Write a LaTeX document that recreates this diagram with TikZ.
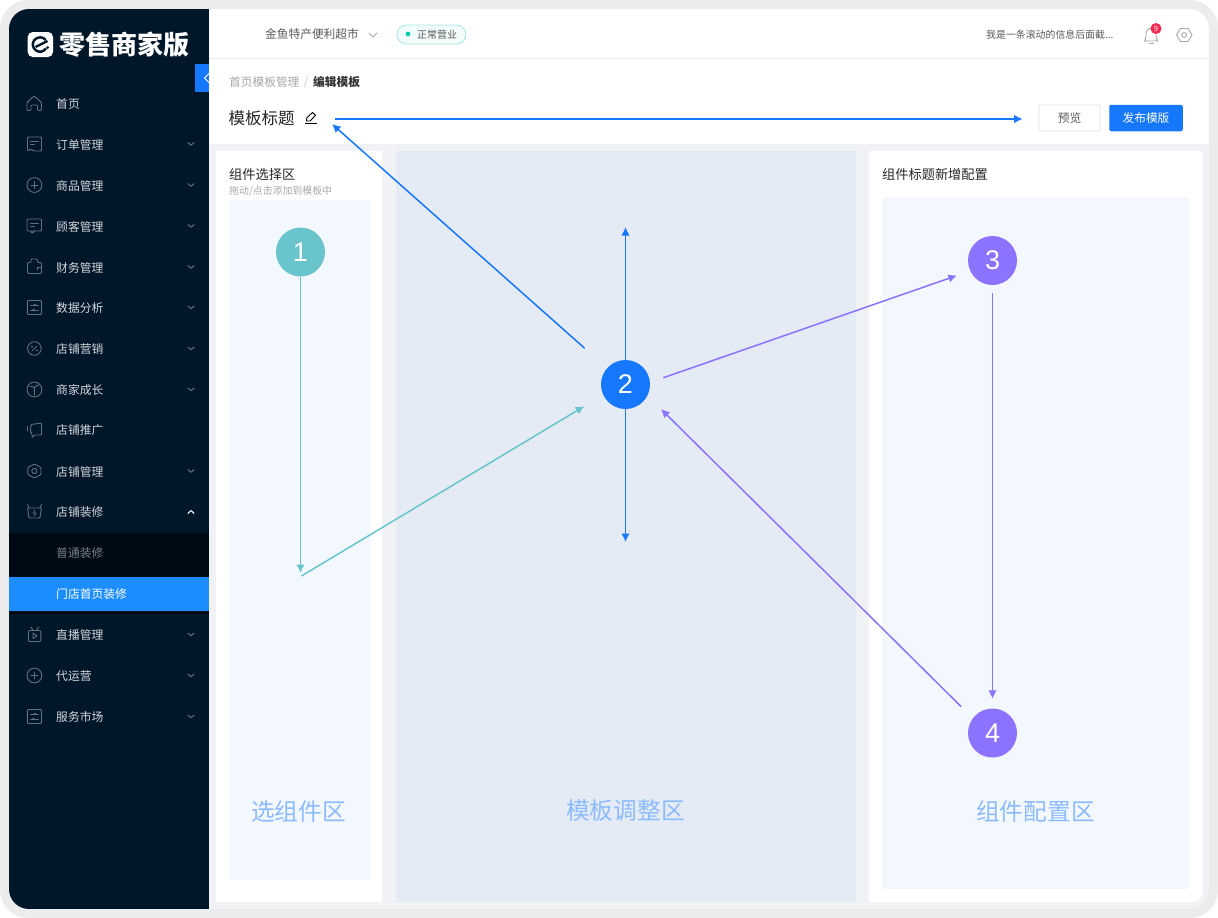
\documentclass[tikz,border=0pt]{standalone}
\usepackage{fontspec}
\setmainfont{Noto Sans CJK SC}
\newfontfamily\digitfont{Liberation Sans}
\usetikzlibrary{shapes,arrows.meta,positioning}
\definecolor{bezel}{HTML}{ECECEC}
\definecolor{sidebar}{HTML}{001629}
\definecolor{sidedark}{HTML}{000A14}
\definecolor{sideblue}{HTML}{1B8DFF}
\definecolor{sideicon}{HTML}{5F7282}
\definecolor{sidetext}{HTML}{D3D7DB}
\definecolor{pagebg}{HTML}{F0F2F6}
\definecolor{zonebg}{HTML}{F3F8FF}
\definecolor{midbg}{HTML}{E4EBF5}
\definecolor{flowblue}{HTML}{1677FF}
\definecolor{flowteal}{HTML}{69C4CC}
\definecolor{flowviolet}{HTML}{8B72FF}
\definecolor{zonetext}{HTML}{8DBBFF}
\definecolor{greytext}{HTML}{5A5A5A}
\definecolor{lighttext}{HTML}{A8A8A8}
\definecolor{statusline}{HTML}{A4E9DE}
\definecolor{statusfill}{HTML}{F2FCFA}
\definecolor{statusdot}{HTML}{00C9A7}
\definecolor{badgered}{HTML}{F5284F}
\newcommand{\px}[1]{\fontsize{#1}{#1}\selectfont}

\begin{document}
\begin{tikzpicture}[x=1pt, y=-1pt,
    menu_item/.style={anchor=west, inner sep=0pt, text=sidetext, font=\px{11.8}},
    menu_icon/.style={draw=sideicon, line width=0.9pt, line join=round, line cap=round},
    menu_fold/.style={draw=sideicon, line width=1pt},
    top_text/.style={anchor=west, inner sep=0pt, text=greytext, font=\px{11.7}},
    panel_title/.style={anchor=west, inner sep=0pt, text=black!85, font=\px{13.2}},
    zone_text/.style={inner sep=0pt, text=zonetext, font=\px{23.7}},
    step_mark/.style={circle, inner sep=0pt, minimum size=49pt, text=white, font=\digitfont\px{27}},
    line/.style={draw, line width=1.5pt, -{Latex[length=8.5pt, width=8.5pt]}},
    line_blue/.style={line, draw=flowblue},
    line_teal/.style={line, draw=flowteal},
    line_violet/.style={line, draw=flowviolet}]

    \useasboundingbox (0,0) rectangle (1218,918);
    \fill [bezel, rounded corners=28pt] (0,0) rectangle (1218,918);

  \begin{scope}
    \clip [rounded corners=20pt] (9,9) rectangle (1209,909);
    % page areas
    \fill [pagebg] (9,9) rectangle (1209,909);
    \fill [white] (209,9) rectangle (1209,144);
    \draw [bezel, line width=1pt] (209,58.5) -- (1209,58.5);
    \fill [white] (215.5,151) rectangle (382.3,902);
    \fill [zonebg] (229.5,200) rectangle (369.7,879.5);
    \fill [midbg] (396,151) rectangle (856,902);
    \fill [white] (869,151) -- (1202.5,151) [rounded corners=9pt] -- (1202.5,902) [sharp corners] -- (869,902) -- cycle;
    \fill [zonebg] (882,197) rectangle (1188.7,889);
    % sidebar
    \fill [sidebar] (9,9) rectangle (209,909);
    \fill [sidedark] (9,533) rectangle (209,577);
    \fill [sidedark] (9,611) rectangle (209,614);
    \fill [sideblue] (9,577) rectangle (209,611);
  \end{scope}

    % logo and folding tab
    \fill [white, rounded corners=5pt] (27.7,32) rectangle (53,57);
    \draw [sidebar, line width=2.5pt] (46,48.5) arc (34:322:7.2);
    \draw [sidebar, line width=2.3pt] (35.5,47) -- (47.5,41);
    \fill [sidebar] (47.5,47.5) circle (1.5);
    \node [anchor=west, inner sep=0pt, text=white, font=\bfseries\px{26}] (logo) at (59.5,44.5) {零售商家版};
    \fill [flowblue] (195,64) rectangle (209,92);
    \draw [white, line width=1pt] (209,73.5) -- (204.5,78) -- (209,82.5);

    % sidebar items
    \foreach \yy/\name/\lab in {104/home/首页, 144.5/order/订单管理, 185.5/goods/商品管理, 226.5/client/顾客管理,
        267.5/finance/财务管理, 308/data/数据分析, 349/sale/店铺营销, 390/grow/商家成长, 430.5/promo/店铺推广,
        471.5/manage/店铺管理, 512.5/decor/店铺装修, 635/live/直播管理, 676/agent/代运营, 717/market/服务市场}
      \node [menu_item] (\name) at (56,\yy) {\lab};
    \node [menu_item, text=sidetext!55!sidebar] (decorA) at (56,553.5) {普通装修};
    \node [menu_item, text=white] (decorB) at (56,594.5) {门店首页装修};
    \foreach \yy in {144,185,226,267,307.5,348.5,389.5,471,634.5,675.5,716.5}
      \draw [menu_fold] (187.8,\yy-1.5) -- (191,\yy+1.2) -- (194.2,\yy-1.5);
    \draw [white, line width=1pt] (187.8,513.5) -- (191,510.5) -- (194.2,513.5);

    % sidebar icons
    \draw [menu_icon, rounded corners=1pt] (27,102.5) -- (34,96) -- (41.5,102.5) -- (41.5,110.5) -- (37.5,110.5)
        -- (37.5,105) -- (31,105) -- (31,110.5) -- (27,110.5) -- cycle;
    \draw [menu_icon, rounded corners=1pt] (27.5,151) -- (27.5,137) -- (41.5,137) -- (41.5,151) -- (33,151) -- (31,149) -- cycle;
    \draw [menu_icon] (30.5,141) -- (38.5,141) (30.5,144.5) -- (34.5,144.5);
    \foreach \yy in {185,675.5} {
      \draw [menu_icon] (34.4,\yy) circle (7.4);
      \draw [menu_icon] (31,\yy) -- (37.8,\yy) (34.4,\yy-3.4) -- (34.4,\yy+3.4);
    }
    \draw [menu_icon, rounded corners=1pt] (27,219) rectangle (41.5,231) (31,231) -- (31.5,233.5) -- (35,231);
    \draw [menu_icon] (30.5,223) -- (38.5,223) (30.5,226.5) -- (34.5,226.5);
    \draw [menu_icon, rounded corners=1pt] (27.5,262.5) -- (31,262.5) -- (31,259) -- (37.5,259) -- (37.5,262.5) -- (41.5,262.5)
        -- (41.5,273.5) -- (27.5,273.5) -- cycle;
    \draw [menu_icon] (41.5,267) -- (37,267) -- (37,270);
    \foreach \yy in {307.5,716.5} {
      \draw [menu_icon, rounded corners=1pt] (27.3,\yy-7) rectangle (41.5,\yy+7);
      \draw [menu_icon] (30.5,\yy-2.5) -- (38.5,\yy-2.5) (30.5,\yy+2.5) -- (38.5,\yy+2.5);
      \fill [sideicon] (35,\yy-2.5) circle (1.3) (33.5,\yy+2.5) circle (1.3);
    }
    \draw [menu_icon, dash pattern=on 5pt off 0.6pt] (34.4,348.5) circle (6.8);
    \draw [menu_icon, line width=0.7pt] (31.8,351) -- (37,346) (32,346.6) circle (0.6) (36.8,350.4) circle (0.6);
    \draw [menu_icon] (34.4,389.5) circle (7.4);
    \draw [menu_icon] (34.4,395) -- (34.4,388) (30,386.5) .. controls (32,386) and (33.5,386.5) .. (34.4,388)
        .. controls (35.5,385.5) and (37,385) .. (39,385);
    \draw [menu_icon, rounded corners=1pt] (31,424.5) -- (41.5,423) -- (41.5,435) -- (34,435) -- (32,438) -- (32,433) -- (30.5,433) -- cycle;
    \draw [menu_icon] (27.5,426.5) -- (27.5,431);
    \draw [menu_icon, rounded corners=1pt] (34.4,464) -- (41,467.5) -- (41,474.5) -- (34.4,478) -- (27.8,474.5) -- (27.8,467.5) -- cycle;
    \draw [menu_icon] (34.4,471) circle (2.6);
    \draw [menu_icon, rounded corners=1pt] (27.5,508) -- (41.5,508) -- (40,518) -- (29,518) -- cycle;
    \draw [menu_icon] (29,507.5) -- (27.5,504.5) (40,507.5) -- (41.5,504.5);
    \draw [menu_icon, line width=0.7pt] (35,510) -- (33,513) -- (36,513) -- (34,516);
    \draw [menu_icon, rounded corners=1pt] (28.5,630.5) rectangle (40.8,641.5);
    \draw [menu_icon] (31,627) -- (33,630.3) (38.5,627) -- (36.5,630.3) (33,633) -- (37,635.8) -- (33,638.5) -- cycle;

    % top bar
    \node [top_text] (shopname) at (265,34.5) {金鱼特产便利超市};
    \draw [draw=lighttext, line width=0.8pt] (369,33) -- (373,37) -- (377,33);
    \node [draw=statusline, fill=statusfill, rounded corners=9.5pt, line width=0.8pt, minimum width=69pt, minimum height=19pt,
        inner sep=0pt] (statusbox) at (431.5,34.5) {};
    \fill [statusdot] (408,34) circle (2.4);
    \node [top_text, font=\px{10}] (status) at (417,34.5) {正常营业};
    \node [top_text, font=\px{9.9}] (notice) at (986,34.5) {我是一条滚动的信息后面截...};
    \draw [draw=lighttext, line width=0.9pt, rounded corners=2pt] (1144.5,41) -- (1146,38) -- (1146,31) -- (1151,27.5) -- (1156,31)
        -- (1156,38) -- (1158,41) -- cycle;
    \draw [draw=lighttext, line width=0.9pt] (1148.5,43.5) -- (1154,43.5);
    \node [circle, fill=badgered, inner sep=0pt, minimum size=11pt, text=white, font=\px{7.5}] (badge) at (1156,28.5) {9};
    \draw [draw=lighttext, line width=0.9pt] (1176.5,35) -- (1180.5,28.5) -- (1188,28.5) -- (1192,35) -- (1188,41.5) -- (1180.5,41.5) -- cycle;
    \draw [draw=lighttext, line width=0.9pt] (1184.2,35) circle (2.4);

    % header row
    \node [top_text, text=lighttext] (crumb) at (229,82) {首页模板管理};
    \node [top_text, text=black!20, right=4pt of crumb] (crumbsep) {/};
    \node [top_text, text=black!80, font=\bfseries\px{11.7}] (crumbedit) at (313,82) {编辑模板};
    \node [anchor=west, inner sep=0pt, text=black!85, font=\px{16.5}] (pagetitle) at (228.5,118) {模板标题};
    \node [inner sep=0pt, minimum size=14pt] (pencil) at (311,119) {};
    \draw [black, line width=0.9pt, line join=round] (306.5,121) -- (306.8,117.8) -- (312.5,112.5) -- (315.5,115.3) -- (310,121) -- cycle;
    \draw [black, line width=0.9pt] (305,123.7) -- (317,123.7);
    \node [draw=black!12, rounded corners=2pt, line width=0.8pt, minimum width=61pt, minimum height=26pt, inner sep=0pt,
        text=greytext, font=\px{11.7}] (preview) at (1069.5,118) {预览};
    \node [fill=flowblue, rounded corners=2pt, minimum width=73.5pt, minimum height=26.5pt, inner sep=0pt,
        text=white, font=\px{11.7}] (publish) at (1146,118) {发布模版};

    % panels
    \node [panel_title] (pickhead) at (229,174.5) {组件选择区};
    \node [anchor=west, inner sep=0pt, text=lighttext, font=\px{9.9}] (pickhint) at (229,191) {拖动/点击添加到模板中};
    \node [panel_title] (confighead) at (882,174.5) {组件标题新增配置};
    \node [zone_text] (pickzone) at (298.5,811) {选组件区};
    \node [zone_text] (adjustzone) at (625.5,811) {模板调整区};
    \node [zone_text] (configzone) at (1035.5,811) {组件配置区};

    % steps
    \node [step_mark, fill=flowteal] (stepone) at (300.5,252) {1};
    \node [step_mark, fill=flowblue] (steptwo) at (625.5,384.5) {2};
    \node [step_mark, fill=flowviolet] (stepthree) at (992.5,260.5) {3};
    \node [step_mark, fill=flowviolet] (stepfour) at (992.5,733) {4};
    \coordinate (turn) at (300.5,573);
    \coordinate (turnout) at (301.5,576);
    \coordinate (titletip) at (332,124);
    \coordinate (uptip) at (625.5,227);
    \coordinate (downtip) at (625.5,542);

    % paths in the order of the steps
    \path [line_teal] (stepone) -- (turn);
    \path [line_teal, shorten >=22pt] (turnout) -- (steptwo.205);
    \path [line_blue] (steptwo) -- (uptip);
    \path [line_blue] (steptwo) -- (downtip);
    \path [line_blue, shorten <=30pt] (steptwo) -- (titletip);
    \path [line_blue, shorten <=17pt, shorten >=16pt] (pencil.east) -- (preview.west |- pencil);
    \path [line_violet, shorten <=14pt, shorten >=14pt] (steptwo.5) -- (stepthree.205);
    \path [line_violet, shorten <=8pt, shorten >=9.5pt] (stepthree) -- (stepfour);
    \path [line_violet, shorten <=16.4pt, shorten >=19pt] (stepfour.143) -- (steptwo.-27);

  \end{tikzpicture}
\end{document}
